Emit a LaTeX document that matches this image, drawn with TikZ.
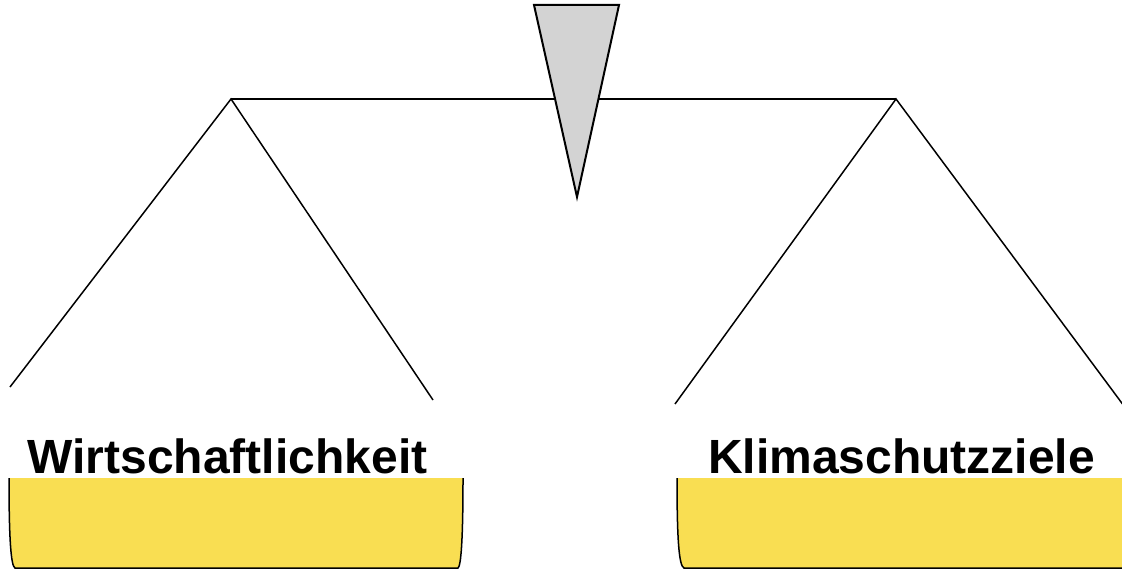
\documentclass[tikz,border=0pt]{standalone}
\usepackage{fontspec}
\setmainfont{Liberation Sans}
\usepackage{xcolor}
\usetikzlibrary{positioning,calc}

\definecolor{panyellow}{HTML}{F9DE52}
\definecolor{pointergray}{HTML}{D3D3D3}

\tikzset{
  rope/.style={line width=0.75pt, black},
  panbox/.style={fill=panyellow, draw=black, line width=0.75pt},
  panlabel/.style={font=\bfseries\fontsize{24}{28}\selectfont, anchor=base}
}

\begin{document}
\begin{tikzpicture}[x=0.5pt, y=-0.5pt]
\useasboundingbox (0,0) rectangle (1122,571);
\clip (0,0) rectangle (1122,571);

% Pivots and rope ends
\coordinate (leftpivot) at (231,99);
\coordinate (rightpivot) at (896,99);
\coordinate (leftropeA) at (10,387);
\coordinate (leftropeB) at (433,400);
\coordinate (rightropeA) at (675,404);
\coordinate (rightropeB) at (1124,406);

% Beam
\draw[rope] (leftpivot) -- (rightpivot);

% Ropes
\draw[rope] (leftropeA) -- (leftpivot) -- (leftropeB);
\draw[rope] (rightropeA) -- (rightpivot) -- (rightropeB);

% Pointer (drawn over the beam)
\draw[fill=pointergray, line width=1pt] (534,5) -- (619,5) -- (577,197) -- cycle;

% Left pan
\path[panbox] (9,478) .. controls (9,540) and (11,566) .. (15,568)
  -- (458,568) .. controls (461,566) and (463,540) .. (463,478);
\node[panlabel] (wlabel) at (227.5,473) {Wirtschaftlichkeit};

% Right pan
\path[panbox] (677,478) .. controls (677,540) and (679,566) .. (684,568)
  -- (1140,568) -- (1140,478);
\node[panlabel] (klabel) at (901.5,473) {Klimaschutzziele};

\end{tikzpicture}
\end{document}
